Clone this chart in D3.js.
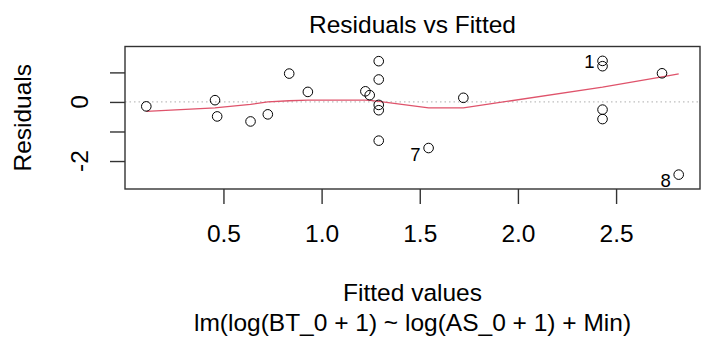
<!DOCTYPE html>
<html><head><meta charset="utf-8">
<script src="https://cdn.jsdelivr.net/npm/d3@7"></script>
<style>html,body{margin:0;padding:0;background:#fff}svg{display:block}</style>
</head><body>
<svg id="c" width="702" height="340"></svg>
<script>
const fitted = [0.107,0.457,0.468,0.638,0.726,0.835,0.930,1.223,1.245,1.291,1.291,1.291,1.291,1.291,1.545,1.722,2.431,2.431,2.431,2.431,2.734,2.819];
const residuals = [-0.15,0.06,-0.49,-0.66,-0.42,0.96,0.34,0.36,0.23,1.38,0.76,-0.10,-0.28,-1.31,-1.56,0.14,1.39,1.21,-0.26,-0.58,0.97,-2.46];
const idLabels = ["","","","","","","","","","","","","","","7","","1","","","","","8"];
const smoothX = [0.107,0.457,0.468,0.638,0.726,0.835,0.930,1.223,1.245,1.291,1.545,1.722,2.431,2.734,2.819];
const smoothY = [-0.32,-0.20,-0.19,-0.08,0.00,0.04,0.06,0.06,0.05,0.02,-0.20,-0.20,0.50,0.85,0.95];
const xTicks = [0.5,1.0,1.5,2.0,2.5];
const yTicks = [-3,-2,-1,0,1];
const yTickLabels = {"-2":"-2","0":"0"};
const title = "Residuals vs Fitted";
const xTitle = "Fitted values";
const subTitle = "lm(log(BT_0 + 1) ~ log(AS_0 + 1) + Min)";
const yTitle = "Residuals";

const svg = d3.select("#c");
const font = "'Liberation Sans', Arial, sans-serif";
const fs = 24.5;
const L = 125, R = 700, T = 46.5, B = 189;

function ext(lo, hi, f){ const d = (hi-lo)*f; return [lo-d, hi+d]; }
const xe = d3.extent(fitted);
const xd = ext(xe[0], xe[1], 0.04);
let ye = d3.extent(residuals);
ye = ext(ye[0], ye[1], 0.08);
const yd = ext(ye[0], ye[1], 0.04);

const x = d3.scaleLinear().domain(xd).range([L, R]);
const y = d3.scaleLinear().domain(yd).range([B, T]);

// zero reference line
svg.append("line").attr("x1", L).attr("x2", R).attr("y1", y(0)).attr("y2", y(0))
  .attr("stroke", "#bebebe").attr("stroke-width", 1.2).attr("stroke-dasharray", "1.5,3");

// smooth
svg.append("path").datum(smoothX.map((v,i)=>[v, smoothY[i]]))
  .attr("d", d3.line().x(d=>x(d[0])).y(d=>y(d[1])))
  .attr("fill", "none").attr("stroke", "#DF536B").attr("stroke-width", 1.3);

// points
svg.append("g").selectAll("circle").data(fitted.map((v,i)=>[v, residuals[i]]))
  .join("circle").attr("cx", d=>x(d[0])).attr("cy", d=>y(d[1])).attr("r", 4.8)
  .attr("fill", "none").attr("stroke", "#000").attr("stroke-width", 1);

// id labels
const labDy = {"1": 0, "7": 6, "8": 6};
svg.append("g").selectAll("text").data(idLabels.map((l,i)=>({l, fx: fitted[i], r: residuals[i]})).filter(d=>d.l))
  .join("text").attr("x", d=>x(d.fx)-8).attr("y", d=>y(d.r)+labDy[d.l]).attr("dy", "0.36em")
  .attr("text-anchor", "end").attr("font-family", font).attr("font-size", 18.5).attr("fill", "#000")
  .text(d=>d.l);

// box
svg.append("rect").attr("x", L).attr("y", T).attr("width", R-L).attr("height", B-T)
  .attr("fill", "none").attr("stroke", "#333").attr("stroke-width", 1.4);

// x axis
const xa = svg.append("g").attr("transform", `translate(0,${B})`)
  .call(d3.axisBottom(x).tickValues(xTicks).tickSize(15).tickSizeOuter(0).tickFormat(d3.format(".1f")));
xa.select(".domain").remove();
xa.selectAll("line").attr("stroke", "#333").attr("stroke-width", 1.4);
xa.selectAll("text").attr("font-family", font).attr("font-size", fs).attr("fill", "#000").attr("dy", null).attr("y", 53);

// y axis
const ya = svg.append("g").attr("transform", `translate(${L},0)`)
  .call(d3.axisLeft(y).tickValues(yTicks.filter(v=>v>=yd[0] && v<=yd[1])).tickSize(15).tickSizeOuter(0).tickFormat(()=>""));
ya.select(".domain").remove();
ya.selectAll("line").attr("stroke", "#333").attr("stroke-width", 1.4);
Object.keys(yTickLabels).forEach(k=>{
  const v = +k;
  svg.append("text").attr("transform", `translate(88,${y(v)}) rotate(-90)`)
    .attr("text-anchor", "middle").attr("font-family", font).attr("font-size", fs).attr("fill", "#000")
    .text(yTickLabels[k]);
});

// titles
svg.append("text").attr("x", (L+R)/2).attr("y", 33).attr("text-anchor", "middle")
  .attr("font-family", font).attr("font-size", fs).attr("fill", "#000").text(title);
svg.append("text").attr("x", (L+R)/2).attr("y", 301).attr("text-anchor", "middle")
  .attr("font-family", font).attr("font-size", fs).attr("fill", "#000").text(xTitle);
svg.append("text").attr("x", (L+R)/2).attr("y", 331).attr("text-anchor", "middle")
  .attr("font-family", font).attr("font-size", fs).attr("fill", "#000").text(subTitle);
svg.append("text").attr("transform", `translate(31,${(T+B)/2}) rotate(-90)`).attr("text-anchor", "middle")
  .attr("font-family", font).attr("font-size", fs).attr("fill", "#000").text(yTitle);
</script>
</body></html>
